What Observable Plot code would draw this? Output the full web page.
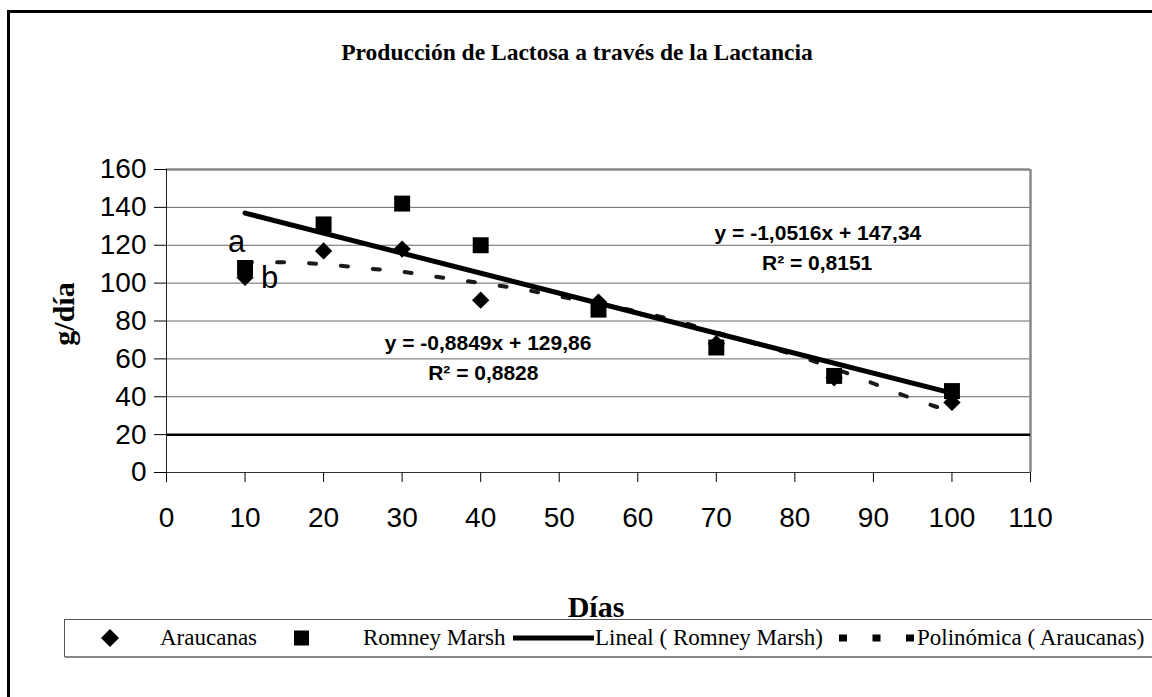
<!DOCTYPE html>
<html><head><meta charset="utf-8">
<script src="https://cdn.jsdelivr.net/npm/d3@7"></script>
<script src="https://cdn.jsdelivr.net/npm/@observablehq/plot@0.6"></script>
<style>
html,body{margin:0;padding:0;background:#fff;}
#wrap{position:relative;width:1152px;height:697px;overflow:hidden;background:#fff;}
#border{position:absolute;left:7px;top:10px;width:1300px;height:900px;border:3px solid #000;box-sizing:border-box;}
#chart{position:absolute;left:0;top:0;}
</style></head><body>
<div id="wrap"><div id="border"></div><div id="chart"></div></div>
<script>
// ---- data ----
const days = [10, 20, 30, 40, 55, 70, 85, 100];
const araucanas = [103, 117, 118, 91, 90, 68, 50, 37];
const romney = [108, 131, 142, 120, 86, 66, 51, 43];
// polynomial trend (Araucanas)
const polyX = [10, 15, 20, 25, 30, 35, 40, 45, 50, 55, 60, 65, 70, 75, 80, 85, 90, 95, 100];
const polyY = [111, 111, 110, 108, 106, 103, 100, 97, 93, 89, 85, 80, 74, 68, 62, 55, 47, 39, 32];
const xTicks = [0, 10, 20, 30, 40, 50, 60, 70, 80, 90, 100, 110];
const yTicks = [0, 20, 40, 60, 80, 100, 120, 140, 160];
const gridTicks = [40, 60, 80, 100, 120, 140];
const titleText = "Producción de Lactosa a través de la Lactancia";
const xLabel = "Días";
const yLabel = "g/día";
const eqTexts = ["y = -1,0516x + 147,34", "R² = 0,8151", "y = -0,8849x + 129,86", "R² = 0,8828"];
const eqX = [83.0, 82.9, 41.0, 40.4];
const eqY = [122.6, 106.8, 64.4, 48.5];
const markTexts = ["a", "b"];
const markX = [9.0, 13.2];
const markY = [116.1, 97.1];
const legendLabels = ["Araucanas", "Romney Marsh", "Lineal ( Romney Marsh)", "Polinómica ( Araucanas)"];

const araData = days.map((d, i) => ({x: d, y: araucanas[i]}));
const romData = days.map((d, i) => ({x: d, y: romney[i]}));
const polyData = polyX.map((d, i) => ({x: d, y: polyY[i]}));

const sans = "Arial, 'Liberation Sans', sans-serif";
const serif = "'Times New Roman', 'Liberation Serif', serif";

const chart = Plot.plot({
  width: 1152,
  height: 697,
  marginLeft: 166,
  marginRight: 122,
  marginTop: 169,
  marginBottom: 225,
  style: {fontFamily: sans, background: "transparent", overflow: "visible"},
  x: {domain: [0, 110]},
  y: {domain: [0, 160]},
  marks: [
    Plot.ruleY(gridTicks, {stroke: "#686868", strokeWidth: 1}),
    Plot.ruleY([160], {stroke: "#888", strokeWidth: 2.5}),
    Plot.ruleX([110], {stroke: "#888", strokeWidth: 2.5}),
    Plot.ruleY([20], {stroke: "#000", strokeWidth: 2.5}),
    Plot.ruleY([0], {stroke: "#333", strokeWidth: 1}),
    Plot.ruleX([0], {stroke: "#222", strokeWidth: 1}),
    Plot.axisX({ticks: xTicks, tickSize: 10, tickPadding: 25, fontSize: 28, label: null, tickFormat: d => String(d), fill: "#000"}),
    Plot.axisY({ticks: yTicks, tickSize: 12, tickPadding: 8, fontSize: 28, label: null, tickFormat: d => String(d), fill: "#000"}),
    Plot.line(polyData, {x: "x", y: "y", stroke: "#1a1a1a", strokeWidth: 4, strokeDasharray: "7,25", curve: "catmull-rom"}),
    Plot.linearRegressionY(romData, {x: "x", y: "y", stroke: "#000", strokeWidth: 5, ci: 0}),
    Plot.dot(araData, {x: "x", y: "y", symbol: "diamond2", fill: "#000", stroke: "none", r: 7.8}),
    Plot.dot(romData, {x: "x", y: "y", symbol: "square", fill: "#000", stroke: "none", r: 9})
  ]
});
document.getElementById("chart").appendChild(chart);

const svg = d3.select(chart);
const sx = chart.scale("x"), sy = chart.scale("y");

// equations
eqTexts.forEach((t, i) => {
  svg.append("text").attr("x", sx.apply(eqX[i])).attr("y", sy.apply(eqY[i]))
    .attr("text-anchor", "middle").attr("font-family", sans).attr("font-weight", "bold")
    .attr("font-size", 21).attr("fill", "#000").text(t);
});
markTexts.forEach((t, i) => {
  svg.append("text").attr("x", sx.apply(markX[i])).attr("y", sy.apply(markY[i]))
    .attr("text-anchor", "middle").attr("font-family", sans)
    .attr("font-size", 31).attr("fill", "#000").text(t);
});

// title & axis labels
svg.append("text").attr("x", 577).attr("y", 60).attr("text-anchor", "middle")
  .attr("font-family", serif).attr("font-weight", "bold").attr("font-size", 23.5).attr("fill", "#000").text(titleText);
svg.append("text").attr("x", 596).attr("y", 617).attr("text-anchor", "middle")
  .attr("font-family", serif).attr("font-weight", "bold").attr("font-size", 30).attr("fill", "#000").text(xLabel);
svg.append("text").attr("transform", "translate(74,314) rotate(-90)").attr("text-anchor", "middle")
  .attr("font-family", serif).attr("font-weight", "bold").attr("font-size", 30).attr("fill", "#000").text(yLabel);

// legend
const lg = svg.append("g").attr("text-anchor", "start");
lg.append("rect").attr("x", 64.5).attr("y", 619.5).attr("width", 1200).attr("height", 37)
  .attr("fill", "#fff").attr("stroke", "#555").attr("stroke-width", 1);
lg.append("line").attr("x1", 65).attr("x2", 1200).attr("y1", 657).attr("y2", 657).attr("stroke", "#888").attr("stroke-width", 2);
const ly = 638;
lg.append("path").attr("d", d3.symbol(d3.symbolDiamond2, 9 * 9 * 2 / (0.62625 * 0.62625) / 2)()).attr("transform", `translate(110,${ly})`).attr("fill", "#000");
lg.append("rect").attr("x", 294).attr("y", ly - 7.5).attr("width", 15).attr("height", 15).attr("fill", "#000");
lg.append("line").attr("x1", 513).attr("x2", 594).attr("y1", ly).attr("y2", ly).attr("stroke", "#000").attr("stroke-width", 5);
lg.append("line").attr("x1", 839).attr("x2", 915).attr("y1", ly).attr("y2", ly).attr("stroke", "#000").attr("stroke-width", 7).attr("stroke-dasharray", "8,25.5");
const lx = [160, 363, 595, 917];
legendLabels.forEach((t, i) => {
  lg.append("text").attr("x", lx[i]).attr("y", 645).attr("text-anchor", "start").attr("font-family", serif).attr("font-size", 23)
    .attr("fill", "#000").text(t);
});
</script>
</body></html>
